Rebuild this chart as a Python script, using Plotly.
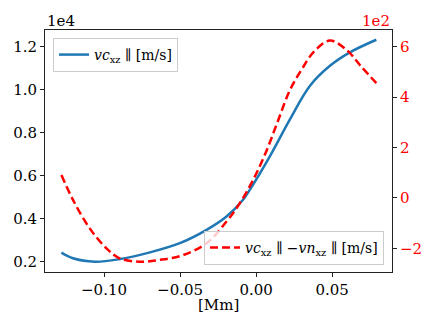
import plotly.graph_objects as go

# data
x_vc = [-0.128, -0.1204, -0.1061, -0.0903, -0.0704, -0.0502, -0.0326, -0.0195,
        -0.0086, -0.0041, 0.0090, 0.0222, 0.0353, 0.0485, 0.0616, 0.0790]
vc = [2421, 2159, 2000, 2112, 2421, 2860, 3481, 4103,
      4883, 5351, 6900, 8622, 10178, 11113, 11739, 12327]

x_diff = [-0.128, -0.1204, -0.1094, -0.0984, -0.0897, -0.0765, -0.0634, -0.0480,
          -0.0326, -0.0195, -0.0107, -0.0020, 0.0060, 0.0140, 0.0220, 0.0300,
          0.0380, 0.0485, 0.0595, 0.0682, 0.0790]
vdiff = [91, -8, -121, -200, -240, -253, -246, -227,
         -180, -94, -21, 71, 175, 300, 425, 510,
         580, 624, 587, 527, 455]

x_ticks = [-0.10, -0.05, 0.00, 0.05]
x_ticktext = ["\u22120.10", "\u22120.05", "0.00", "0.05"]
y1_ticks = [2000, 4000, 6000, 8000, 10000, 12000]
y1_ticktext = ["0.2", "0.4", "0.6", "0.8", "1.0", "1.2"]
y2_ticks = [-200, 0, 200, 400, 600]
y2_ticktext = ["\u22122", "0", "2", "4", "6"]

FONT = "DejaVu Serif"
FS = 15

fig = go.Figure()
fig.add_trace(go.Scatter(
    x=x_vc, y=vc, mode="lines", line_shape="spline",
    line=dict(color="#1f77b4", width=2.5),
    name="<i>vc</i><sub>xz</sub> \u2225 [m/s]",
    legend="legend", showlegend=True,
))
fig.add_trace(go.Scatter(
    x=x_diff, y=vdiff, mode="lines", line_shape="spline", yaxis="y2",
    line=dict(color="red", width=2.5, dash="8px,4px"),
    name="<i>vc</i><sub>xz</sub> \u2225 \u2212<i>vn</i><sub>xz</sub> \u2225 [m/s]",
    legend="legend2", showlegend=True,
))

axis_common = dict(
    showgrid=False, zeroline=False, showline=True, linecolor="#222222",
    linewidth=1, ticks="outside", ticklen=4, tickcolor="#222222",
)

fig.update_layout(
    width=436, height=327,
    margin=dict(l=45, r=44, t=30, b=55),
    paper_bgcolor="white", plot_bgcolor="white",
    font=dict(family=FONT, size=FS, color="black"),
    showlegend=True,
    xaxis=dict(range=[-0.1388, 0.0893], tickvals=x_ticks, ticktext=x_ticktext,
               tickfont=dict(family=FONT, size=FS), mirror=True,
               **axis_common),
    yaxis=dict(range=[1520, 12780], tickvals=y1_ticks, ticktext=y1_ticktext,
               tickfont=dict(family=FONT, size=FS), **axis_common),
    yaxis2=dict(range=[-294, 666], tickvals=y2_ticks, ticktext=y2_ticktext,
                overlaying="y", side="right",
                tickfont=dict(family=FONT, size=FS, color="red"),
                **axis_common),
    legend=dict(x=0.023, y=0.967, xanchor="left", yanchor="top",
                bordercolor="#cccccc", borderwidth=1,
                bgcolor="rgba(255,255,255,0.8)",
                font=dict(family=FONT, size=14)),
    legend2=dict(x=0.977, y=0.029, xanchor="right", yanchor="bottom",
                 bordercolor="#cccccc", borderwidth=1,
                 bgcolor="rgba(255,255,255,0.8)",
                 font=dict(family=FONT, size=14)),
    annotations=[
        dict(text="1e4", x=0, y=1, xref="paper", yref="paper",
             xanchor="left", yanchor="bottom", showarrow=False, yshift=-2,
             font=dict(family=FONT, size=FS, color="black")),
        dict(text="1e2", x=1, y=1, xref="paper", yref="paper",
             xanchor="right", yanchor="bottom", showarrow=False, yshift=-2,
             font=dict(family=FONT, size=FS, color="red")),
        dict(text="[Mm]", x=0.5, y=0, xref="paper", yref="paper",
             xanchor="center", yanchor="top", showarrow=False, yshift=-22,
             font=dict(family=FONT, size=FS, color="black")),
    ],
)

# the page body has a default 8px margin; drop it so the figure sits at 0,0
fig.write_html("out.html", config={"displayModeBar": False},
               post_script="document.body.style.margin='0';")
